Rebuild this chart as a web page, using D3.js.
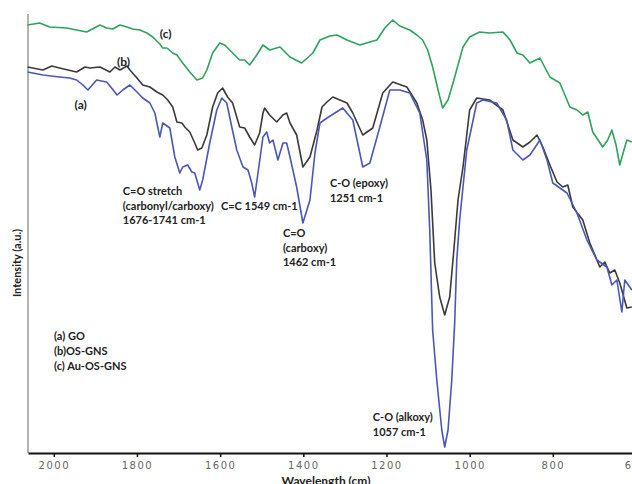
<!DOCTYPE html>
<html>
<head>
<meta charset="utf-8">
<script src="https://cdn.jsdelivr.net/npm/d3@7"></script>
<style>
  body { margin: 0; background: #fff; }
  .note { font-family: Lato, "Open Sans", sans-serif; font-weight: bold; font-size: 11px; fill: #222; }
  .axis text { font-family: "DejaVu Sans", sans-serif; font-size: 10px; fill: #666; letter-spacing: 1.5px; }
</style>
</head>
<body>
<div class="chart"></div>
<script>
// wavenumber (cm-1) / intensity (a.u.)
var auWn  = [2063,2034,2010,1969,1945,1921,1889,1873,1858,1841,1824,1810,1793,1776,1762,1745,1738,1728,1714,1704,1690,1673,1656,1642,1632,1618,1601,1589,1577,1553,1541,1529,1512,1497,1481,1456,1432,1404,1377,1360,1336,1319,1295,1264,1240,1223,1204,1185,1168,1144,1127,1113,1101,1089,1076,1065,1052,1040,1028,1016,1000,976,952,920,903,886,872,855,831,807,783,759,742,728,716,704,680,668,658,648,639,629,622,610];
var auVal = [428,430,426,425,423,421,428,425,424,428,426,424,423,420,416,409,405,405,400,398,390,381,373,375,383,400,410,408,403,393,393,388,398,408,403,406,396,390,400,413,417,418,413,408,411,413,425,433,427,423,418,413,403,386,363,345,353,370,388,406,416,421,420,421,413,400,398,390,395,376,370,346,343,338,341,321,306,313,323,308,288,303,313,311];

var osWn  = [2063,2026,2005,1986,1966,1945,1925,1913,1889,1865,1853,1841,1824,1817,1800,1786,1769,1752,1738,1726,1714,1704,1692,1685,1673,1661,1654,1644,1632,1618,1606,1594,1582,1570,1553,1541,1529,1517,1505,1497,1493,1481,1464,1449,1440,1432,1416,1401,1384,1367,1355,1343,1329,1312,1295,1281,1257,1233,1209,1185,1151,1127,1113,1103,1093,1084,1072,1060,1048,1038,1028,1016,1000,983,952,920,896,872,855,838,824,807,790,776,764,752,728,711,687,675,663,651,639,622,610];
var osVal = [386,383,387,385,383,381,386,385,386,381,386,383,387,383,375,368,366,361,358,353,346,331,330,326,321,310,303,305,318,346,360,365,356,350,326,325,316,308,320,340,345,338,331,338,340,330,318,286,296,323,346,351,356,353,350,340,318,325,360,371,366,350,333,313,263,190,156,138,156,203,253,286,343,355,353,343,313,306,311,318,306,288,271,266,268,246,233,210,186,191,180,183,170,145,146];

var goWn  = [2063,2026,1986,1962,1945,1930,1918,1897,1873,1861,1848,1834,1817,1800,1786,1769,1757,1745,1738,1721,1709,1697,1690,1678,1668,1661,1649,1642,1625,1608,1596,1584,1572,1560,1545,1533,1524,1517,1509,1497,1488,1481,1473,1461,1449,1440,1432,1416,1401,1384,1372,1360,1343,1305,1281,1257,1240,1216,1192,1168,1144,1120,1103,1096,1089,1079,1067,1060,1052,1043,1036,1031,1024,1007,983,968,935,911,896,872,855,831,814,800,766,742,718,694,670,658,646,634,627,610];
var goVal = [381,378,376,375,373,368,363,373,371,365,358,363,368,361,355,350,340,316,330,325,296,280,286,288,281,280,263,273,310,343,355,350,326,303,286,283,270,256,280,316,321,310,313,293,310,310,296,266,230,253,300,330,335,345,333,286,290,326,363,363,360,340,293,223,123,73,23,6,23,73,130,193,233,303,350,353,350,333,303,293,298,313,293,270,260,240,213,193,186,168,173,141,173,163];

var seriesNames  = ["(a)", "(b)", "(c)"];
var seriesColors = ["#4a57b8", "#3a3a3a", "#2ea35a"];
var legendLines  = ["(a) GO", "(b)OS-GNS", "(c) Au-OS-GNS"];
var xTicks = [2000, 1800, 1600, 1400, 1200, 1000, 800, 600];

var notes = [
  {lines: ["C=O stretch", "(carbonyl/carboxy)", "1676-1741 cm-1"], wn: 1834, val: 258},
  {lines: ["C=C 1549 cm-1"], wn: 1598, val: 243},
  {lines: ["C=O", "(carboxy)", "1462 cm-1"], wn: 1449, val: 216},
  {lines: ["C-O (epoxy)", "1251 cm-1"], wn: 1336, val: 266},
  {lines: ["C-O (alkoxy)", "1057 cm-1"], wn: 1233, val: 32}
];

var width = 632, height = 484;

var svg = d3.select(".chart").append("svg")
    .attr("width", width)
    .attr("height", height);

var x = d3.scaleLinear()
    .domain([2062, 600])
    .range([28, 636]);

var y = d3.scaleLinear()
    .domain([0, 440])
    .range([453, 13]);

// left edge
svg.append("line")
    .attr("x1", 28).attr("x2", 28)
    .attr("y1", 14).attr("y2", 453)
    .style("stroke", "#999")
    .style("stroke-width", 1.5);

var line = d3.line()
    .x(function(d) { return x(d[0]); })
    .y(function(d) { return y(d[1]); });

var series = [
  d3.zip(goWn, goVal),
  d3.zip(osWn, osVal),
  d3.zip(auWn, auVal)
];

// draw black, then blue, then green on top
[1, 0, 2].forEach(function(i) {
  svg.append("path")
      .datum(series[i])
      .attr("d", line)
      .style("fill", "none")
      .style("stroke", seriesColors[i])
      .style("stroke-width", 1.6)
      .style("stroke-linejoin", "round");
});

var axis = svg.append("g")
    .attr("class", "axis")
    .attr("transform", "translate(0,453)")
    .call(d3.axisBottom(x)
          .tickValues(xTicks)
          .tickSize(4)
          .tickSizeOuter(0)
          .tickPadding(5)
          .tickFormat(d3.format("d")));

axis.select(".domain").style("stroke", "#111").style("stroke-width", 2);
axis.selectAll(".tick line").style("stroke", "#111").style("stroke-width", 1.5);

// curve labels
var labelPos = [[1950, 344], [1848, 387], [1745, 415]];
svg.selectAll(".slabel")
    .data(seriesNames)
    .enter()
    .append("text")
    .attr("class", "note")
    .style("font-size", "12px")
    .attr("x", function(d, i) { return x(labelPos[i][0]); })
    .attr("y", function(d, i) { return y(labelPos[i][1]); })
    .text(function(d) { return d; });

// peak notes
notes.forEach(function(n) {
  var t = svg.append("text")
      .attr("class", "note")
      .attr("x", x(n.wn))
      .attr("y", y(n.val));
  n.lines.forEach(function(s, j) {
    t.append("tspan")
        .attr("x", x(n.wn))
        .attr("dy", j === 0 ? 0 : 14.5)
        .text(s);
  });
});

// legend block
var leg = svg.append("text")
    .attr("class", "note")
    .attr("x", 54)
    .attr("y", 340);
legendLines.forEach(function(s, j) {
  leg.append("tspan")
      .attr("x", 54)
      .attr("dy", j === 0 ? 0 : 15)
      .text(s);
});

svg.append("text")
    .attr("class", "note")
    .style("font-size", "12px")
    .attr("text-anchor", "middle")
    .attr("x", 326)
    .attr("y", 485)
    .text("Wavelength (cm)");

svg.append("text")
    .attr("class", "note")
    .attr("text-anchor", "middle")
    .attr("transform", "translate(21,263) rotate(-90)")
    .text("Intensity (a.u.)");
</script>
</body>
</html>
